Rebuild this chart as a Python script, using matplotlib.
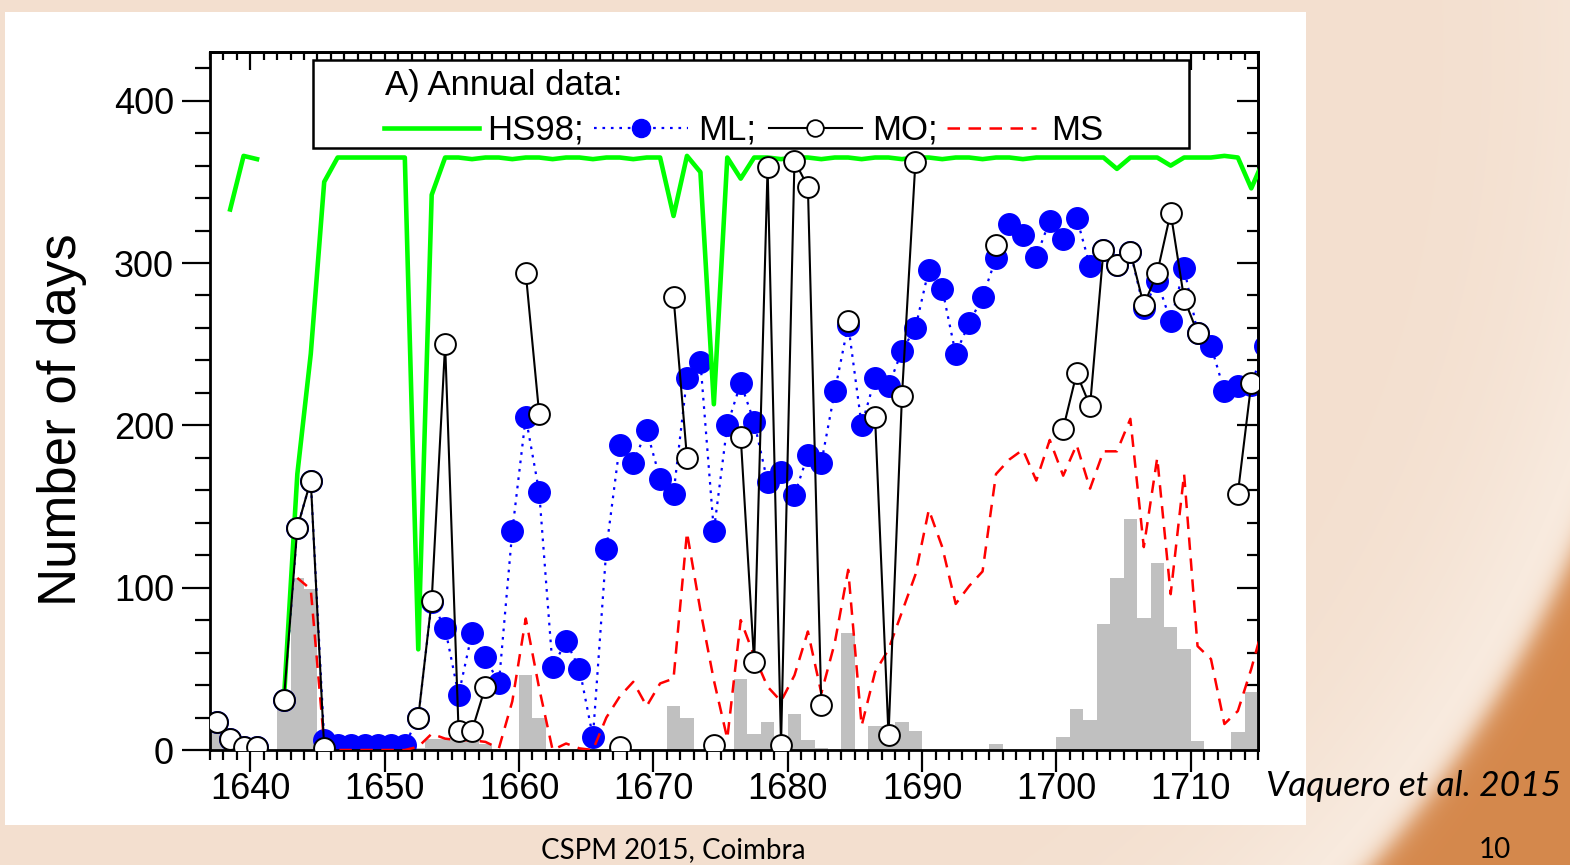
import numpy as np
import matplotlib
matplotlib.use("Agg")
import matplotlib.pyplot as plt
from matplotlib.patches import Rectangle
from matplotlib.lines import Line2D
from matplotlib.ticker import MultipleLocator

plt.rcParams['font.family'] = ['Liberation Sans', 'DejaVu Sans']

nan = np.nan

# Annual series, one value per year 1637-1715
years = np.arange(1637, 1716)

hs98 = [
    nan, 333, 366, 364, nan, 31, 170, 244, 350, 365,   # 1637-1646
    365, 365, 365, 365, 365, 62, 342, 365, 365, 364,   # 1647-1656
    365, 365, 364, 365, 365, 364, 365, 365, 364, 365,   # 1657-1666
    365, 364, 365, 365, 329, 366, 356, 213, 365, 352,   # 1667-1676
    365, 365, 364, 365, 365, 364, 365, 365, 364, 365,   # 1677-1686
    365, 364, 365, 365, 364, 365, 365, 364, 365, 365,   # 1687-1696
    364, 365, 365, 365, 365, 365, 365, 358, 365, 365,   # 1697-1706
    365, 360, 365, 365, 365, 366, 365, 346, 365,        # 1707-1715
]

ml = [
    17, 7, 2, 2, nan, 31, 137, 166, 6, 3,               # 1637-1646
    3, 3, 3, 3, 3, 20, 91, 75, 34, 72,                  # 1647-1656
    57, 41, 135, 205, 159, 51, 67, 50, 8, 124,          # 1657-1666
    188, 177, 197, 167, 158, 229, 239, 135, 200, 226,   # 1667-1676
    202, 165, 171, 157, 182, 177, 221, 262, 200, 229,   # 1677-1686
    224, 246, 260, 296, 284, 244, 263, 279, 303, 324,   # 1687-1696
    317, 304, 326, 315, 328, 298, 308, 299, 307, 272,   # 1697-1706
    289, 264, 297, 257, 249, 221, 224, 225, 249,        # 1707-1715
]

mo = [
    17, 7, 2, 2, nan, 31, 137, 166, 1, nan,             # 1637-1646
    nan, nan, nan, nan, nan, 20, 92, 250, 12, 12,       # 1647-1656
    39, nan, nan, 294, 207, nan, nan, nan, nan, nan,    # 1657-1666
    2, nan, nan, nan, 279, 180, nan, 3, nan, 193,       # 1667-1676
    54, 359, 3, 363, 347, 28, nan, 264, nan, 205,       # 1677-1686
    9, 218, 362, nan, nan, nan, nan, nan, 311, nan,     # 1687-1696
    nan, nan, nan, 198, 232, 212, 308, 299, 307, 274,   # 1697-1706
    294, 331, 278, 257, nan, nan, 158, 226, nan,        # 1707-1715
]

ms = [
    nan, nan, nan, nan, nan, nan, 106, 99, 4, 0,        # 1637-1646
    0, 0, 0, 0, 0, 2, 10, 7, 6, 6,                      # 1647-1656
    5, 1, 30, 81, 38, 0, 4, 1, 0, 20,                   # 1657-1666
    33, 42, 27, 41, 44, 134, 86, 43, 7, 80,             # 1667-1676
    58, 39, 30, 46, 73, 35, 66, 111, 15, 48,            # 1677-1686
    62, 85, 108, 148, 125, 90, 101, 110, 170, 179,      # 1687-1696
    185, 166, 191, 169, 188, 161, 184, 184, 204, 125,   # 1697-1706
    180, 96, 170, 64, 56, 16, 24, 50, 80,               # 1707-1715
]

# grey histogram (one-year bins)
hist = [
    11, 0, 0, 0, 0, 25, 106, 99, 0, 0,                  # 1637-1646
    0, 0, 0, 0, 0, 1.5, 7, 7, 7, 6,                     # 1647-1656
    4, 0, 0, 46, 19.5, 0, 0, 0, 0, 0,                   # 1657-1666
    0, 0, 0, 0, 27, 19.5, 0, 0, 0, 43.5,                # 1667-1676
    10, 17.5, 1, 22, 6, 1.5, 0, 72, 0, 15,              # 1677-1686
    15, 17.5, 12, 0, 0, 0, 0, 0, 3.7, 0,                # 1687-1696
    0, 0, 0, 8, 25, 18.5, 77.5, 106, 142.5, 81.5,       # 1697-1706
    115, 76, 62, 5.5, 0, 0, 11.3, 36, 0,                # 1707-1715
]

x_ticks = [1640, 1650, 1660, 1670, 1680, 1690, 1700, 1710]
y_ticks = [0, 100, 200, 300, 400]

W, H = 1570, 865
fig = plt.figure(figsize=(W / 100, H / 100), dpi=100)


def fx(px):
    return px / W


def fy(py):
    return 1 - py / H


# ---- slide background: pale solar disc with orange limb at lower right
bg = fig.add_axes([0, 0, 1, 1], zorder=-10)
yy, xx = np.mgrid[0:H, 0:W].astype(float)
d = np.hypot(xx - 450.0, yy - 50.0)
R = 1230.0
inner = np.array([0.955, 0.878, 0.815])
rim = np.array([0.980, 0.935, 0.895])
orange = np.array([0.835, 0.535, 0.300])
t_rim = np.clip(1 - (R - d) / 260.0, 0, 1) ** 2
inside = inner + (rim - inner) * t_rim[..., None]
s = 1 / (1 + np.exp(-(d - R) / 7.0))
img = inside * (1 - s[..., None]) + orange * s[..., None]
bg.imshow(img, extent=[0, W, H, 0], aspect='auto', interpolation='bilinear')
bg.add_patch(Rectangle((5, 12), 1301, 813, facecolor='white', edgecolor='none'))
bg.set_xlim(0, W)
bg.set_ylim(H, 0)
bg.axis('off')

# ---- chart
ax = fig.add_axes([fx(210), fy(750), fx(1258) - fx(210), fy(52) - fy(750)])
ax.set_facecolor('white')
xc = years + 0.5

ax.bar(years, hist, width=1.0, align='edge', color='#C0C0C0', linewidth=0, zorder=1)
ax.plot(xc, ml, color='#0000FF', lw=1.6, dashes=(1.2, 2.6), marker='o', ms=15.5,
        mfc='#0000FF', mec='#0000FF', zorder=2)
ax.plot(xc, ms, color='#FF0000', lw=1.8, dashes=(5, 3.4), zorder=3)
ax.plot(xc, hs98, color='#00FF00', lw=3.3, zorder=4)
ax.plot(xc, mo, color='black', lw=1.5, marker='o', ms=15, mfc='white', mec='black',
        mew=1.4, zorder=5)

ax.set_xlim(1637, 1715)
ax.set_ylim(0, 430)

ax.set_xticks(x_ticks)
ax.set_yticks(y_ticks)
ax.xaxis.set_minor_locator(MultipleLocator(1))
ax.yaxis.set_minor_locator(MultipleLocator(20))
ax.tick_params(axis='x', which='major', direction='out', length=16, width=1.6,
               labelsize=26, pad=0)
ax.tick_params(axis='x', which='minor', direction='out', length=7, width=1.6)
ax.tick_params(axis='y', which='major', direction='out', length=20, width=1.6,
               labelsize=26, pad=6)
ax.tick_params(axis='y', which='minor', direction='out', length=10.5, width=1.6)
for sp in ax.spines.values():
    sp.set_linewidth(2.0)

top = ax.secondary_xaxis('top')
top.set_xticks(x_ticks)
top.xaxis.set_minor_locator(MultipleLocator(1))
top.tick_params(axis='x', which='major', direction='in', length=13, width=1.6, labeltop=False)
top.tick_params(axis='x', which='minor', direction='in', length=6, width=1.6)
top.spines['top'].set_linewidth(2.0)

right = ax.secondary_yaxis('right')
right.set_yticks(y_ticks)
right.yaxis.set_minor_locator(MultipleLocator(20))
right.tick_params(axis='y', which='major', direction='in', length=15, width=1.6, labelright=False)
right.tick_params(axis='y', which='minor', direction='in', length=8, width=1.6)
right.spines['right'].set_linewidth(2.0)

fig.text(fx(62), fy(420), "Number of days", rotation=90, ha='center', va='center',
         fontsize=38)

# ---- legend box
fig.add_artist(Rectangle((fx(313), fy(148)), fx(1189) - fx(313), fy(60) - fy(148),
                         transform=fig.transFigure, facecolor='white',
                         edgecolor='black', lw=1.8, zorder=5))
fig.text(fx(385), fy(95), "A) Annual data:", fontsize=25, va='baseline', zorder=6)
row_y = fy(128)
fig.add_artist(Line2D([fx(384), fx(479)], [row_y, row_y], transform=fig.transFigure,
                      color='#00FF00', lw=3.3, zorder=6))
fig.text(fx(487), fy(140), "HS98;", fontsize=25, va='baseline', zorder=6)
fig.add_artist(Line2D([fx(594), fx(688)], [row_y, row_y], transform=fig.transFigure,
                      color='#0000FF', lw=1.6, dashes=(1.2, 2.6), zorder=6))
fig.add_artist(Line2D([fx(641)], [row_y], transform=fig.transFigure, ls='none',
                      marker='o', ms=13, mfc='#0000FF', mec='#0000FF', zorder=7))
fig.text(fx(698), fy(140), "ML;", fontsize=25, va='baseline', zorder=6)
fig.add_artist(Line2D([fx(769), fx(862)], [row_y, row_y], transform=fig.transFigure,
                      color='black', lw=1.5, zorder=6))
fig.add_artist(Line2D([fx(815)], [row_y], transform=fig.transFigure, ls='none',
                      marker='o', ms=12, mfc='white', mec='black', mew=1.3, zorder=7))
fig.text(fx(872), fy(140), "MO;", fontsize=25, va='baseline', zorder=6)
fig.add_artist(Line2D([fx(947), fx(1036)], [row_y, row_y], transform=fig.transFigure,
                      color='#FF0000', lw=1.8, dashes=(5, 3.4), zorder=6))
fig.text(fx(1051), fy(140), "MS", fontsize=25, va='baseline', zorder=6)

# ---- slide captions
fig.text(fx(1414), fy(786), "Vaquero et al. 2015", fontsize=25.5, style='italic',
         family=['Lato', 'DejaVu Sans'], ha='center', va='center')
fig.text(fx(673), fy(850), "CSPM 2015, Coimbra", fontsize=20,
         family=['Lato', 'DejaVu Sans'], ha='center', va='center')
fig.text(fx(1495), fy(850), "10", fontsize=20,
         family=['Lato', 'DejaVu Sans'], ha='center', va='center')

fig.savefig("out.png", dpi=100)
